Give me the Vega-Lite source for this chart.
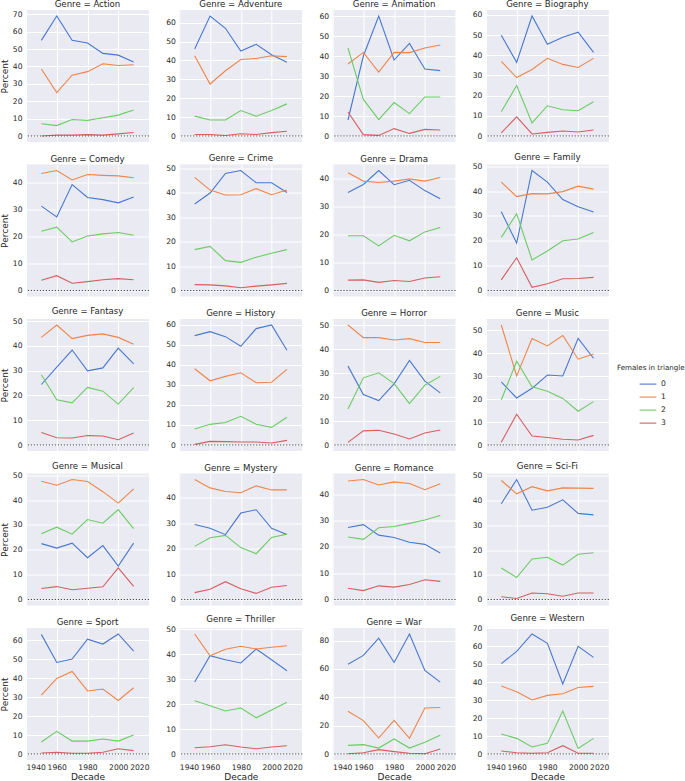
{
"$schema":"https://vega.github.io/schema/vega-lite/v6.json",
"padding":{"left":0,"top":0,"right":0,"bottom":0},
"background":"white",
"datasets":{"d":[
{"Genre":"Action","Decade":1950,"Females":"0","Percent":55},{"Genre":"Action","Decade":1960,"Females":"0","Percent":69},{"Genre":"Action","Decade":1970,"Females":"0","Percent":55},{"Genre":"Action","Decade":1980,"Females":"0","Percent":53.5},{"Genre":"Action","Decade":1990,"Females":"0","Percent":47.5},{"Genre":"Action","Decade":2000,"Females":"0","Percent":46.5},{"Genre":"Action","Decade":2010,"Females":"0","Percent":42.5},
{"Genre":"Action","Decade":1950,"Females":"1","Percent":38.5},{"Genre":"Action","Decade":1960,"Females":"1","Percent":25},{"Genre":"Action","Decade":1970,"Females":"1","Percent":35},{"Genre":"Action","Decade":1980,"Females":"1","Percent":37},{"Genre":"Action","Decade":1990,"Females":"1","Percent":41.5},{"Genre":"Action","Decade":2000,"Females":"1","Percent":40.5},{"Genre":"Action","Decade":2010,"Females":"1","Percent":41},
{"Genre":"Action","Decade":1950,"Females":"2","Percent":7},{"Genre":"Action","Decade":1960,"Females":"2","Percent":6},{"Genre":"Action","Decade":1970,"Females":"2","Percent":9.5},{"Genre":"Action","Decade":1980,"Females":"2","Percent":9},{"Genre":"Action","Decade":1990,"Females":"2","Percent":10.5},{"Genre":"Action","Decade":2000,"Females":"2","Percent":12},{"Genre":"Action","Decade":2010,"Females":"2","Percent":15},
{"Genre":"Action","Decade":1950,"Females":"3","Percent":0},{"Genre":"Action","Decade":1960,"Females":"3","Percent":0.5},{"Genre":"Action","Decade":1970,"Females":"3","Percent":0.5},{"Genre":"Action","Decade":1980,"Females":"3","Percent":0.8},{"Genre":"Action","Decade":1990,"Females":"3","Percent":0.5},{"Genre":"Action","Decade":2000,"Females":"3","Percent":1.2},{"Genre":"Action","Decade":2010,"Females":"3","Percent":2},
{"Genre":"Adventure","Decade":1950,"Females":"0","Percent":46},{"Genre":"Adventure","Decade":1960,"Females":"0","Percent":63.5},{"Genre":"Adventure","Decade":1970,"Females":"0","Percent":57},{"Genre":"Adventure","Decade":1980,"Females":"0","Percent":45},{"Genre":"Adventure","Decade":1990,"Females":"0","Percent":48.5},{"Genre":"Adventure","Decade":2000,"Females":"0","Percent":43},{"Genre":"Adventure","Decade":2010,"Females":"0","Percent":39},
{"Genre":"Adventure","Decade":1950,"Females":"1","Percent":42.5},{"Genre":"Adventure","Decade":1960,"Females":"1","Percent":27.5},{"Genre":"Adventure","Decade":1970,"Females":"1","Percent":34.5},{"Genre":"Adventure","Decade":1980,"Females":"1","Percent":40.5},{"Genre":"Adventure","Decade":1990,"Females":"1","Percent":41},{"Genre":"Adventure","Decade":2000,"Females":"1","Percent":42.5},{"Genre":"Adventure","Decade":2010,"Females":"1","Percent":42},
{"Genre":"Adventure","Decade":1950,"Females":"2","Percent":10.5},{"Genre":"Adventure","Decade":1960,"Females":"2","Percent":8.5},{"Genre":"Adventure","Decade":1970,"Females":"2","Percent":8.5},{"Genre":"Adventure","Decade":1980,"Females":"2","Percent":13.5},{"Genre":"Adventure","Decade":1990,"Females":"2","Percent":10.5},{"Genre":"Adventure","Decade":2000,"Females":"2","Percent":13.5},{"Genre":"Adventure","Decade":2010,"Females":"2","Percent":17},
{"Genre":"Adventure","Decade":1950,"Females":"3","Percent":0.8},{"Genre":"Adventure","Decade":1960,"Females":"3","Percent":0.8},{"Genre":"Adventure","Decade":1970,"Females":"3","Percent":0.3},{"Genre":"Adventure","Decade":1980,"Females":"3","Percent":1.2},{"Genre":"Adventure","Decade":1990,"Females":"3","Percent":0.8},{"Genre":"Adventure","Decade":2000,"Females":"3","Percent":1.8},{"Genre":"Adventure","Decade":2010,"Females":"3","Percent":2.5},
{"Genre":"Animation","Decade":1950,"Females":"0","Percent":8},{"Genre":"Animation","Decade":1960,"Females":"0","Percent":40},{"Genre":"Animation","Decade":1970,"Females":"0","Percent":60},{"Genre":"Animation","Decade":1980,"Females":"0","Percent":38},{"Genre":"Animation","Decade":1990,"Females":"0","Percent":46.3},{"Genre":"Animation","Decade":2000,"Females":"0","Percent":33.5},{"Genre":"Animation","Decade":2010,"Females":"0","Percent":32.7},
{"Genre":"Animation","Decade":1950,"Females":"1","Percent":36},{"Genre":"Animation","Decade":1960,"Females":"1","Percent":41.8},{"Genre":"Animation","Decade":1970,"Females":"1","Percent":32},{"Genre":"Animation","Decade":1980,"Females":"1","Percent":41.8},{"Genre":"Animation","Decade":1990,"Females":"1","Percent":41.7},{"Genre":"Animation","Decade":2000,"Females":"1","Percent":44},{"Genre":"Animation","Decade":2010,"Females":"1","Percent":45.5},
{"Genre":"Animation","Decade":1950,"Females":"2","Percent":44},{"Genre":"Animation","Decade":1960,"Females":"2","Percent":18.3},{"Genre":"Animation","Decade":1970,"Females":"2","Percent":8.2},{"Genre":"Animation","Decade":1980,"Females":"2","Percent":16.7},{"Genre":"Animation","Decade":1990,"Females":"2","Percent":11.2},{"Genre":"Animation","Decade":2000,"Females":"2","Percent":19.5},{"Genre":"Animation","Decade":2010,"Females":"2","Percent":19.5},
{"Genre":"Animation","Decade":1950,"Females":"3","Percent":12},{"Genre":"Animation","Decade":1960,"Females":"3","Percent":0.7},{"Genre":"Animation","Decade":1970,"Females":"3","Percent":0.3},{"Genre":"Animation","Decade":1980,"Females":"3","Percent":3.7},{"Genre":"Animation","Decade":1990,"Females":"3","Percent":1.3},{"Genre":"Animation","Decade":2000,"Females":"3","Percent":3.3},{"Genre":"Animation","Decade":2010,"Females":"3","Percent":3},
{"Genre":"Biography","Decade":1950,"Females":"0","Percent":50},{"Genre":"Biography","Decade":1960,"Females":"0","Percent":36.5},{"Genre":"Biography","Decade":1970,"Females":"0","Percent":59.5},{"Genre":"Biography","Decade":1980,"Females":"0","Percent":45.5},{"Genre":"Biography","Decade":1990,"Females":"0","Percent":49},{"Genre":"Biography","Decade":2000,"Females":"0","Percent":51.5},{"Genre":"Biography","Decade":2010,"Females":"0","Percent":41.5},
{"Genre":"Biography","Decade":1950,"Females":"1","Percent":37},{"Genre":"Biography","Decade":1960,"Females":"1","Percent":29},{"Genre":"Biography","Decade":1970,"Females":"1","Percent":33},{"Genre":"Biography","Decade":1980,"Females":"1","Percent":38.5},{"Genre":"Biography","Decade":1990,"Females":"1","Percent":35.5},{"Genre":"Biography","Decade":2000,"Females":"1","Percent":34},{"Genre":"Biography","Decade":2010,"Females":"1","Percent":38.5},
{"Genre":"Biography","Decade":1950,"Females":"2","Percent":12},{"Genre":"Biography","Decade":1960,"Females":"2","Percent":25},{"Genre":"Biography","Decade":1970,"Females":"2","Percent":6.5},{"Genre":"Biography","Decade":1980,"Females":"2","Percent":15},{"Genre":"Biography","Decade":1990,"Females":"2","Percent":13},{"Genre":"Biography","Decade":2000,"Females":"2","Percent":12.5},{"Genre":"Biography","Decade":2010,"Females":"2","Percent":17},
{"Genre":"Biography","Decade":1950,"Females":"3","Percent":1.5},{"Genre":"Biography","Decade":1960,"Females":"3","Percent":9.5},{"Genre":"Biography","Decade":1970,"Females":"3","Percent":1},{"Genre":"Biography","Decade":1980,"Females":"3","Percent":1.8},{"Genre":"Biography","Decade":1990,"Females":"3","Percent":2.5},{"Genre":"Biography","Decade":2000,"Females":"3","Percent":2},{"Genre":"Biography","Decade":2010,"Females":"3","Percent":3},
{"Genre":"Comedy","Decade":1950,"Females":"0","Percent":31.3},{"Genre":"Comedy","Decade":1960,"Females":"0","Percent":27.3},{"Genre":"Comedy","Decade":1970,"Females":"0","Percent":39.3},{"Genre":"Comedy","Decade":1980,"Females":"0","Percent":34.5},{"Genre":"Comedy","Decade":1990,"Females":"0","Percent":33.7},{"Genre":"Comedy","Decade":2000,"Females":"0","Percent":32.5},{"Genre":"Comedy","Decade":2010,"Females":"0","Percent":34.7},
{"Genre":"Comedy","Decade":1950,"Females":"1","Percent":43.4},{"Genre":"Comedy","Decade":1960,"Females":"1","Percent":44.5},{"Genre":"Comedy","Decade":1970,"Females":"1","Percent":41},{"Genre":"Comedy","Decade":1980,"Females":"1","Percent":43},{"Genre":"Comedy","Decade":1990,"Females":"1","Percent":42.7},{"Genre":"Comedy","Decade":2000,"Females":"1","Percent":42.5},{"Genre":"Comedy","Decade":2010,"Females":"1","Percent":41.8},
{"Genre":"Comedy","Decade":1950,"Females":"2","Percent":22},{"Genre":"Comedy","Decade":1960,"Females":"2","Percent":23.5},{"Genre":"Comedy","Decade":1970,"Females":"2","Percent":18},{"Genre":"Comedy","Decade":1980,"Females":"2","Percent":20.2},{"Genre":"Comedy","Decade":1990,"Females":"2","Percent":21},{"Genre":"Comedy","Decade":2000,"Females":"2","Percent":21.5},{"Genre":"Comedy","Decade":2010,"Females":"2","Percent":20.5},
{"Genre":"Comedy","Decade":1950,"Females":"3","Percent":3.8},{"Genre":"Comedy","Decade":1960,"Females":"3","Percent":5.5},{"Genre":"Comedy","Decade":1970,"Females":"3","Percent":2.7},{"Genre":"Comedy","Decade":1980,"Females":"3","Percent":3.3},{"Genre":"Comedy","Decade":1990,"Females":"3","Percent":4},{"Genre":"Comedy","Decade":2000,"Females":"3","Percent":4.4},{"Genre":"Comedy","Decade":2010,"Females":"3","Percent":4},
{"Genre":"Crime","Decade":1950,"Females":"0","Percent":35.3},{"Genre":"Crime","Decade":1960,"Females":"0","Percent":39.8},{"Genre":"Crime","Decade":1970,"Females":"0","Percent":47.8},{"Genre":"Crime","Decade":1980,"Females":"0","Percent":49},{"Genre":"Crime","Decade":1990,"Females":"0","Percent":44},{"Genre":"Crime","Decade":2000,"Females":"0","Percent":44},{"Genre":"Crime","Decade":2010,"Females":"0","Percent":40},
{"Genre":"Crime","Decade":1950,"Females":"1","Percent":46.2},{"Genre":"Crime","Decade":1960,"Females":"1","Percent":41},{"Genre":"Crime","Decade":1970,"Females":"1","Percent":39},{"Genre":"Crime","Decade":1980,"Females":"1","Percent":39.1},{"Genre":"Crime","Decade":1990,"Females":"1","Percent":41.6},{"Genre":"Crime","Decade":2000,"Females":"1","Percent":39.1},{"Genre":"Crime","Decade":2010,"Females":"1","Percent":41},
{"Genre":"Crime","Decade":1950,"Females":"2","Percent":16.7},{"Genre":"Crime","Decade":1960,"Females":"2","Percent":18},{"Genre":"Crime","Decade":1970,"Females":"2","Percent":12.2},{"Genre":"Crime","Decade":1980,"Females":"2","Percent":11.5},{"Genre":"Crime","Decade":1990,"Females":"2","Percent":13.6},{"Genre":"Crime","Decade":2000,"Females":"2","Percent":15.2},{"Genre":"Crime","Decade":2010,"Females":"2","Percent":16.7},
{"Genre":"Crime","Decade":1950,"Females":"3","Percent":2.4},{"Genre":"Crime","Decade":1960,"Females":"3","Percent":2.3},{"Genre":"Crime","Decade":1970,"Females":"3","Percent":1.9},{"Genre":"Crime","Decade":1980,"Females":"3","Percent":1.1},{"Genre":"Crime","Decade":1990,"Females":"3","Percent":1.8},{"Genre":"Crime","Decade":2000,"Females":"3","Percent":2.3},{"Genre":"Crime","Decade":2010,"Females":"3","Percent":2.9},
{"Genre":"Drama","Decade":1950,"Females":"0","Percent":35.1},{"Genre":"Drama","Decade":1960,"Females":"0","Percent":38},{"Genre":"Drama","Decade":1970,"Females":"0","Percent":43},{"Genre":"Drama","Decade":1980,"Females":"0","Percent":37.9},{"Genre":"Drama","Decade":1990,"Females":"0","Percent":39.5},{"Genre":"Drama","Decade":2000,"Females":"0","Percent":35.8},{"Genre":"Drama","Decade":2010,"Females":"0","Percent":32.9},
{"Genre":"Drama","Decade":1950,"Females":"1","Percent":42.2},{"Genre":"Drama","Decade":1960,"Females":"1","Percent":39.2},{"Genre":"Drama","Decade":1970,"Females":"1","Percent":38.7},{"Genre":"Drama","Decade":1980,"Females":"1","Percent":39.2},{"Genre":"Drama","Decade":1990,"Females":"1","Percent":40},{"Genre":"Drama","Decade":2000,"Females":"1","Percent":39.2},{"Genre":"Drama","Decade":2010,"Females":"1","Percent":40.5},
{"Genre":"Drama","Decade":1950,"Females":"2","Percent":19.6},{"Genre":"Drama","Decade":1960,"Females":"2","Percent":19.6},{"Genre":"Drama","Decade":1970,"Females":"2","Percent":16},{"Genre":"Drama","Decade":1980,"Females":"2","Percent":19.8},{"Genre":"Drama","Decade":1990,"Females":"2","Percent":17.8},{"Genre":"Drama","Decade":2000,"Females":"2","Percent":21},{"Genre":"Drama","Decade":2010,"Females":"2","Percent":22.6},
{"Genre":"Drama","Decade":1950,"Females":"3","Percent":3.7},{"Genre":"Drama","Decade":1960,"Females":"3","Percent":3.8},{"Genre":"Drama","Decade":1970,"Females":"3","Percent":2.9},{"Genre":"Drama","Decade":1980,"Females":"3","Percent":3.6},{"Genre":"Drama","Decade":1990,"Females":"3","Percent":3.2},{"Genre":"Drama","Decade":2000,"Females":"3","Percent":4.5},{"Genre":"Drama","Decade":2010,"Females":"3","Percent":4.9},
{"Genre":"Family","Decade":1950,"Females":"0","Percent":31.7},{"Genre":"Family","Decade":1960,"Females":"0","Percent":19.1},{"Genre":"Family","Decade":1970,"Females":"0","Percent":48.3},{"Genre":"Family","Decade":1980,"Females":"0","Percent":43.6},{"Genre":"Family","Decade":1990,"Females":"0","Percent":36.6},{"Genre":"Family","Decade":2000,"Females":"0","Percent":33.7},{"Genre":"Family","Decade":2010,"Females":"0","Percent":31.6},
{"Genre":"Family","Decade":1950,"Females":"1","Percent":43.6},{"Genre":"Family","Decade":1960,"Females":"1","Percent":37.8},{"Genre":"Family","Decade":1970,"Females":"1","Percent":39},{"Genre":"Family","Decade":1980,"Females":"1","Percent":38.9},{"Genre":"Family","Decade":1990,"Females":"1","Percent":39.8},{"Genre":"Family","Decade":2000,"Females":"1","Percent":42},{"Genre":"Family","Decade":2010,"Females":"1","Percent":40.8},
{"Genre":"Family","Decade":1950,"Females":"2","Percent":21.4},{"Genre":"Family","Decade":1960,"Females":"2","Percent":30.9},{"Genre":"Family","Decade":1970,"Females":"2","Percent":12.3},{"Genre":"Family","Decade":1980,"Females":"2","Percent":15.9},{"Genre":"Family","Decade":1990,"Females":"2","Percent":20},{"Genre":"Family","Decade":2000,"Females":"2","Percent":20.7},{"Genre":"Family","Decade":2010,"Females":"2","Percent":23.3},
{"Genre":"Family","Decade":1950,"Females":"3","Percent":4.3},{"Genre":"Family","Decade":1960,"Females":"3","Percent":13.2},{"Genre":"Family","Decade":1970,"Females":"3","Percent":1.3},{"Genre":"Family","Decade":1980,"Females":"3","Percent":2.7},{"Genre":"Family","Decade":1990,"Females":"3","Percent":4.7},{"Genre":"Family","Decade":2000,"Females":"3","Percent":4.8},{"Genre":"Family","Decade":2010,"Females":"3","Percent":5.3},
{"Genre":"Fantasy","Decade":1950,"Females":"0","Percent":24.4},{"Genre":"Fantasy","Decade":1960,"Females":"0","Percent":31.4},{"Genre":"Fantasy","Decade":1970,"Females":"0","Percent":38.3},{"Genre":"Fantasy","Decade":1980,"Females":"0","Percent":29.9},{"Genre":"Fantasy","Decade":1990,"Females":"0","Percent":31.1},{"Genre":"Fantasy","Decade":2000,"Females":"0","Percent":39.1},{"Genre":"Fantasy","Decade":2010,"Females":"0","Percent":32.7},
{"Genre":"Fantasy","Decade":1950,"Females":"1","Percent":43.4},{"Genre":"Fantasy","Decade":1960,"Females":"1","Percent":48.4},{"Genre":"Fantasy","Decade":1970,"Females":"1","Percent":42.9},{"Genre":"Fantasy","Decade":1980,"Females":"1","Percent":44.2},{"Genre":"Fantasy","Decade":1990,"Females":"1","Percent":44.8},{"Genre":"Fantasy","Decade":2000,"Females":"1","Percent":43.4},{"Genre":"Fantasy","Decade":2010,"Females":"1","Percent":40.6},
{"Genre":"Fantasy","Decade":1950,"Females":"2","Percent":28.3},{"Genre":"Fantasy","Decade":1960,"Females":"2","Percent":18.2},{"Genre":"Fantasy","Decade":1970,"Females":"2","Percent":17},{"Genre":"Fantasy","Decade":1980,"Females":"2","Percent":23.2},{"Genre":"Fantasy","Decade":1990,"Females":"2","Percent":21.7},{"Genre":"Fantasy","Decade":2000,"Females":"2","Percent":16.5},{"Genre":"Fantasy","Decade":2010,"Females":"2","Percent":23.1},
{"Genre":"Fantasy","Decade":1950,"Females":"3","Percent":5},{"Genre":"Fantasy","Decade":1960,"Females":"3","Percent":2.9},{"Genre":"Fantasy","Decade":1970,"Females":"3","Percent":2.8},{"Genre":"Fantasy","Decade":1980,"Females":"3","Percent":3.8},{"Genre":"Fantasy","Decade":1990,"Females":"3","Percent":3.6},{"Genre":"Fantasy","Decade":2000,"Females":"3","Percent":2.1},{"Genre":"Fantasy","Decade":2010,"Females":"3","Percent":4.8},
{"Genre":"History","Decade":1950,"Females":"0","Percent":54.5},{"Genre":"History","Decade":1960,"Females":"0","Percent":56.5},{"Genre":"History","Decade":1970,"Females":"0","Percent":54},{"Genre":"History","Decade":1980,"Females":"0","Percent":49.2},{"Genre":"History","Decade":1990,"Females":"0","Percent":58},{"Genre":"History","Decade":2000,"Females":"0","Percent":59.8},{"Genre":"History","Decade":2010,"Females":"0","Percent":47.2},
{"Genre":"History","Decade":1950,"Females":"1","Percent":38},{"Genre":"History","Decade":1960,"Females":"1","Percent":32},{"Genre":"History","Decade":1970,"Females":"1","Percent":34.2},{"Genre":"History","Decade":1980,"Females":"1","Percent":36},{"Genre":"History","Decade":1990,"Females":"1","Percent":31},{"Genre":"History","Decade":2000,"Females":"1","Percent":31.3},{"Genre":"History","Decade":2010,"Females":"1","Percent":37.7},
{"Genre":"History","Decade":1950,"Females":"2","Percent":8},{"Genre":"History","Decade":1960,"Females":"2","Percent":10.3},{"Genre":"History","Decade":1970,"Females":"2","Percent":11.2},{"Genre":"History","Decade":1980,"Females":"2","Percent":14.3},{"Genre":"History","Decade":1990,"Females":"2","Percent":10.3},{"Genre":"History","Decade":2000,"Females":"2","Percent":8.8},{"Genre":"History","Decade":2010,"Females":"2","Percent":13.8},
{"Genre":"History","Decade":1950,"Females":"3","Percent":0.3},{"Genre":"History","Decade":1960,"Females":"3","Percent":1.8},{"Genre":"History","Decade":1970,"Females":"3","Percent":1.7},{"Genre":"History","Decade":1980,"Females":"3","Percent":1.5},{"Genre":"History","Decade":1990,"Females":"3","Percent":1.5},{"Genre":"History","Decade":2000,"Females":"3","Percent":1},{"Genre":"History","Decade":2010,"Females":"3","Percent":2.3},
{"Genre":"Horror","Decade":1950,"Females":"0","Percent":33},{"Genre":"Horror","Decade":1960,"Females":"0","Percent":21.1},{"Genre":"Horror","Decade":1970,"Females":"0","Percent":18.6},{"Genre":"Horror","Decade":1980,"Females":"0","Percent":25.6},{"Genre":"Horror","Decade":1990,"Females":"0","Percent":35.4},{"Genre":"Horror","Decade":2000,"Females":"0","Percent":26.7},{"Genre":"Horror","Decade":2010,"Females":"0","Percent":21.8},
{"Genre":"Horror","Decade":1950,"Females":"1","Percent":50.2},{"Genre":"Horror","Decade":1960,"Females":"1","Percent":44.9},{"Genre":"Horror","Decade":1970,"Females":"1","Percent":44.9},{"Genre":"Horror","Decade":1980,"Females":"1","Percent":43.9},{"Genre":"Horror","Decade":1990,"Females":"1","Percent":44.5},{"Genre":"Horror","Decade":2000,"Females":"1","Percent":42.9},{"Genre":"Horror","Decade":2010,"Females":"1","Percent":42.9},
{"Genre":"Horror","Decade":1950,"Females":"2","Percent":15.1},{"Genre":"Horror","Decade":1960,"Females":"2","Percent":28.1},{"Genre":"Horror","Decade":1970,"Females":"2","Percent":30.2},{"Genre":"Horror","Decade":1980,"Females":"2","Percent":25.7},{"Genre":"Horror","Decade":1990,"Females":"2","Percent":17.3},{"Genre":"Horror","Decade":2000,"Females":"2","Percent":25},{"Genre":"Horror","Decade":2010,"Females":"2","Percent":28.7},
{"Genre":"Horror","Decade":1950,"Females":"3","Percent":1.1},{"Genre":"Horror","Decade":1960,"Females":"3","Percent":5.9},{"Genre":"Horror","Decade":1970,"Females":"3","Percent":6.2},{"Genre":"Horror","Decade":1980,"Females":"3","Percent":4.6},{"Genre":"Horror","Decade":1990,"Females":"3","Percent":2.5},{"Genre":"Horror","Decade":2000,"Females":"3","Percent":5},{"Genre":"Horror","Decade":2010,"Females":"3","Percent":6.3},
{"Genre":"Music","Decade":1950,"Females":"0","Percent":27.5},{"Genre":"Music","Decade":1960,"Females":"0","Percent":20.5},{"Genre":"Music","Decade":1970,"Females":"0","Percent":24.7},{"Genre":"Music","Decade":1980,"Females":"0","Percent":30.5},{"Genre":"Music","Decade":1990,"Females":"0","Percent":30.1},{"Genre":"Music","Decade":2000,"Females":"0","Percent":46.5},{"Genre":"Music","Decade":2010,"Females":"0","Percent":37.8},
{"Genre":"Music","Decade":1950,"Females":"1","Percent":52.3},{"Genre":"Music","Decade":1960,"Females":"1","Percent":30.1},{"Genre":"Music","Decade":1970,"Females":"1","Percent":46.4},{"Genre":"Music","Decade":1980,"Females":"1","Percent":43.2},{"Genre":"Music","Decade":1990,"Females":"1","Percent":47.7},{"Genre":"Music","Decade":2000,"Females":"1","Percent":37.4},{"Genre":"Music","Decade":2010,"Females":"1","Percent":39.7},
{"Genre":"Music","Decade":1950,"Females":"2","Percent":19.6},{"Genre":"Music","Decade":1960,"Females":"2","Percent":36.5},{"Genre":"Music","Decade":1970,"Females":"2","Percent":25.4},{"Genre":"Music","Decade":1980,"Females":"2","Percent":23.4},{"Genre":"Music","Decade":1990,"Females":"2","Percent":20.3},{"Genre":"Music","Decade":2000,"Females":"2","Percent":14.7},{"Genre":"Music","Decade":2010,"Females":"2","Percent":18.9},
{"Genre":"Music","Decade":1950,"Females":"3","Percent":1.2},{"Genre":"Music","Decade":1960,"Females":"3","Percent":13.4},{"Genre":"Music","Decade":1970,"Females":"3","Percent":3.9},{"Genre":"Music","Decade":1980,"Females":"3","Percent":3.3},{"Genre":"Music","Decade":1990,"Females":"3","Percent":2.5},{"Genre":"Music","Decade":2000,"Females":"3","Percent":2.2},{"Genre":"Music","Decade":2010,"Females":"3","Percent":4.2},
{"Genre":"Musical","Decade":1950,"Females":"0","Percent":22.5},{"Genre":"Musical","Decade":1960,"Females":"0","Percent":20.7},{"Genre":"Musical","Decade":1970,"Females":"0","Percent":22.7},{"Genre":"Musical","Decade":1980,"Females":"0","Percent":16.8},{"Genre":"Musical","Decade":1990,"Females":"0","Percent":21.7},{"Genre":"Musical","Decade":2000,"Females":"0","Percent":13.5},{"Genre":"Musical","Decade":2010,"Females":"0","Percent":22.7},
{"Genre":"Musical","Decade":1950,"Females":"1","Percent":47.6},{"Genre":"Musical","Decade":1960,"Females":"1","Percent":46},{"Genre":"Musical","Decade":1970,"Females":"1","Percent":48.3},{"Genre":"Musical","Decade":1980,"Females":"1","Percent":47.5},{"Genre":"Musical","Decade":1990,"Females":"1","Percent":43.4},{"Genre":"Musical","Decade":2000,"Females":"1","Percent":38.8},{"Genre":"Musical","Decade":2010,"Females":"1","Percent":44.5},
{"Genre":"Musical","Decade":1950,"Females":"2","Percent":26.5},{"Genre":"Musical","Decade":1960,"Females":"2","Percent":29.1},{"Genre":"Musical","Decade":1970,"Females":"2","Percent":26.3},{"Genre":"Musical","Decade":1980,"Females":"2","Percent":32.2},{"Genre":"Musical","Decade":1990,"Females":"2","Percent":30.7},{"Genre":"Musical","Decade":2000,"Females":"2","Percent":36.2},{"Genre":"Musical","Decade":2010,"Females":"2","Percent":28.5},
{"Genre":"Musical","Decade":1950,"Females":"3","Percent":4.4},{"Genre":"Musical","Decade":1960,"Females":"3","Percent":5.2},{"Genre":"Musical","Decade":1970,"Females":"3","Percent":3.9},{"Genre":"Musical","Decade":1980,"Females":"3","Percent":4.5},{"Genre":"Musical","Decade":1990,"Females":"3","Percent":5.1},{"Genre":"Musical","Decade":2000,"Females":"3","Percent":12.7},{"Genre":"Musical","Decade":2010,"Females":"3","Percent":5.3},
{"Genre":"Mystery","Decade":1950,"Females":"0","Percent":29.5},{"Genre":"Mystery","Decade":1960,"Females":"0","Percent":28},{"Genre":"Mystery","Decade":1970,"Females":"0","Percent":25.5},{"Genre":"Mystery","Decade":1980,"Females":"0","Percent":34},{"Genre":"Mystery","Decade":1990,"Females":"0","Percent":35.3},{"Genre":"Mystery","Decade":2000,"Females":"0","Percent":28},{"Genre":"Mystery","Decade":2010,"Females":"0","Percent":25.6},
{"Genre":"Mystery","Decade":1950,"Females":"1","Percent":47.2},{"Genre":"Mystery","Decade":1960,"Females":"1","Percent":43.9},{"Genre":"Mystery","Decade":1970,"Females":"1","Percent":42.5},{"Genre":"Mystery","Decade":1980,"Females":"1","Percent":42},{"Genre":"Mystery","Decade":1990,"Females":"1","Percent":44.7},{"Genre":"Mystery","Decade":2000,"Females":"1","Percent":43.1},{"Genre":"Mystery","Decade":2010,"Females":"1","Percent":43.1},
{"Genre":"Mystery","Decade":1950,"Females":"2","Percent":20.9},{"Genre":"Mystery","Decade":1960,"Females":"2","Percent":24.3},{"Genre":"Mystery","Decade":1970,"Females":"2","Percent":25.2},{"Genre":"Mystery","Decade":1980,"Females":"2","Percent":20.4},{"Genre":"Mystery","Decade":1990,"Females":"2","Percent":18},{"Genre":"Mystery","Decade":2000,"Females":"2","Percent":24.4},{"Genre":"Mystery","Decade":2010,"Females":"2","Percent":25.7},
{"Genre":"Mystery","Decade":1950,"Females":"3","Percent":2.7},{"Genre":"Mystery","Decade":1960,"Females":"3","Percent":4},{"Genre":"Mystery","Decade":1970,"Females":"3","Percent":7},{"Genre":"Mystery","Decade":1980,"Females":"3","Percent":4.2},{"Genre":"Mystery","Decade":1990,"Females":"3","Percent":2.4},{"Genre":"Mystery","Decade":2000,"Females":"3","Percent":4.8},{"Genre":"Mystery","Decade":2010,"Females":"3","Percent":5.5},
{"Genre":"Romance","Decade":1950,"Females":"0","Percent":27.4},{"Genre":"Romance","Decade":1960,"Females":"0","Percent":28.5},{"Genre":"Romance","Decade":1970,"Females":"0","Percent":24.5},{"Genre":"Romance","Decade":1980,"Females":"0","Percent":23.6},{"Genre":"Romance","Decade":1990,"Females":"0","Percent":21.8},{"Genre":"Romance","Decade":2000,"Females":"0","Percent":21},{"Genre":"Romance","Decade":2010,"Females":"0","Percent":17.7},
{"Genre":"Romance","Decade":1950,"Females":"1","Percent":45.1},{"Genre":"Romance","Decade":1960,"Females":"1","Percent":45.7},{"Genre":"Romance","Decade":1970,"Females":"1","Percent":43.6},{"Genre":"Romance","Decade":1980,"Females":"1","Percent":44.8},{"Genre":"Romance","Decade":1990,"Females":"1","Percent":44.2},{"Genre":"Romance","Decade":2000,"Females":"1","Percent":41.8},{"Genre":"Romance","Decade":2010,"Females":"1","Percent":44.1},
{"Genre":"Romance","Decade":1950,"Females":"2","Percent":23.8},{"Genre":"Romance","Decade":1960,"Females":"2","Percent":22.9},{"Genre":"Romance","Decade":1970,"Females":"2","Percent":27.3},{"Genre":"Romance","Decade":1980,"Females":"2","Percent":27.8},{"Genre":"Romance","Decade":1990,"Females":"2","Percent":29},{"Genre":"Romance","Decade":2000,"Females":"2","Percent":30.3},{"Genre":"Romance","Decade":2010,"Females":"2","Percent":32},
{"Genre":"Romance","Decade":1950,"Females":"3","Percent":4.3},{"Genre":"Romance","Decade":1960,"Females":"3","Percent":3.4},{"Genre":"Romance","Decade":1970,"Females":"3","Percent":5.2},{"Genre":"Romance","Decade":1980,"Females":"3","Percent":4.7},{"Genre":"Romance","Decade":1990,"Females":"3","Percent":5.7},{"Genre":"Romance","Decade":2000,"Females":"3","Percent":7.5},{"Genre":"Romance","Decade":2010,"Females":"3","Percent":6.9},
{"Genre":"Sci-Fi","Decade":1950,"Females":"0","Percent":38.7},{"Genre":"Sci-Fi","Decade":1960,"Females":"0","Percent":48.5},{"Genre":"Sci-Fi","Decade":1970,"Females":"0","Percent":36.1},{"Genre":"Sci-Fi","Decade":1980,"Females":"0","Percent":37.3},{"Genre":"Sci-Fi","Decade":1990,"Females":"0","Percent":40.3},{"Genre":"Sci-Fi","Decade":2000,"Females":"0","Percent":34.8},{"Genre":"Sci-Fi","Decade":2010,"Females":"0","Percent":34.2},
{"Genre":"Sci-Fi","Decade":1950,"Females":"1","Percent":48.1},{"Genre":"Sci-Fi","Decade":1960,"Females":"1","Percent":42.7},{"Genre":"Sci-Fi","Decade":1970,"Females":"1","Percent":45.6},{"Genre":"Sci-Fi","Decade":1980,"Females":"1","Percent":43.9},{"Genre":"Sci-Fi","Decade":1990,"Females":"1","Percent":45.1},{"Genre":"Sci-Fi","Decade":2000,"Females":"1","Percent":45},{"Genre":"Sci-Fi","Decade":2010,"Females":"1","Percent":44.9},
{"Genre":"Sci-Fi","Decade":1950,"Females":"2","Percent":12.7},{"Genre":"Sci-Fi","Decade":1960,"Females":"2","Percent":8.9},{"Genre":"Sci-Fi","Decade":1970,"Females":"2","Percent":16.4},{"Genre":"Sci-Fi","Decade":1980,"Females":"2","Percent":17.1},{"Genre":"Sci-Fi","Decade":1990,"Females":"2","Percent":13.9},{"Genre":"Sci-Fi","Decade":2000,"Females":"2","Percent":18.3},{"Genre":"Sci-Fi","Decade":2010,"Females":"2","Percent":18.9},
{"Genre":"Sci-Fi","Decade":1950,"Females":"3","Percent":1.1},{"Genre":"Sci-Fi","Decade":1960,"Females":"3","Percent":0.4},{"Genre":"Sci-Fi","Decade":1970,"Females":"3","Percent":2.6},{"Genre":"Sci-Fi","Decade":1980,"Females":"3","Percent":2.3},{"Genre":"Sci-Fi","Decade":1990,"Females":"3","Percent":1.3},{"Genre":"Sci-Fi","Decade":2000,"Females":"3","Percent":2.6},{"Genre":"Sci-Fi","Decade":2010,"Females":"3","Percent":2.6},
{"Genre":"Sport","Decade":1950,"Females":"0","Percent":63},{"Genre":"Sport","Decade":1960,"Females":"0","Percent":48.2},{"Genre":"Sport","Decade":1970,"Females":"0","Percent":50},{"Genre":"Sport","Decade":1980,"Females":"0","Percent":60.5},{"Genre":"Sport","Decade":1990,"Females":"0","Percent":57.9},{"Genre":"Sport","Decade":2000,"Females":"0","Percent":63.2},{"Genre":"Sport","Decade":2010,"Females":"0","Percent":54.2},
{"Genre":"Sport","Decade":1950,"Females":"1","Percent":31},{"Genre":"Sport","Decade":1960,"Females":"1","Percent":39.8},{"Genre":"Sport","Decade":1970,"Females":"1","Percent":43.5},{"Genre":"Sport","Decade":1980,"Females":"1","Percent":33.2},{"Genre":"Sport","Decade":1990,"Females":"1","Percent":34.2},{"Genre":"Sport","Decade":2000,"Females":"1","Percent":28.2},{"Genre":"Sport","Decade":2010,"Females":"1","Percent":34.9},
{"Genre":"Sport","Decade":1950,"Females":"2","Percent":6.3},{"Genre":"Sport","Decade":1960,"Females":"2","Percent":11.9},{"Genre":"Sport","Decade":1970,"Females":"2","Percent":6.8},{"Genre":"Sport","Decade":1980,"Females":"2","Percent":6.8},{"Genre":"Sport","Decade":1990,"Females":"2","Percent":7.9},{"Genre":"Sport","Decade":2000,"Females":"2","Percent":6.8},{"Genre":"Sport","Decade":2010,"Females":"2","Percent":10},
{"Genre":"Sport","Decade":1950,"Females":"3","Percent":0.5},{"Genre":"Sport","Decade":1960,"Females":"3","Percent":0.9},{"Genre":"Sport","Decade":1970,"Females":"3","Percent":0.4},{"Genre":"Sport","Decade":1980,"Females":"3","Percent":0.4},{"Genre":"Sport","Decade":1990,"Females":"3","Percent":0.9},{"Genre":"Sport","Decade":2000,"Females":"3","Percent":2.8},{"Genre":"Sport","Decade":2010,"Females":"3","Percent":1.8},
{"Genre":"Thriller","Decade":1950,"Females":"0","Percent":28.8},{"Genre":"Thriller","Decade":1960,"Females":"0","Percent":39.3},{"Genre":"Thriller","Decade":1970,"Females":"0","Percent":37.7},{"Genre":"Thriller","Decade":1980,"Females":"0","Percent":36.4},{"Genre":"Thriller","Decade":1990,"Females":"0","Percent":42},{"Genre":"Thriller","Decade":2000,"Females":"0","Percent":37.7},{"Genre":"Thriller","Decade":2010,"Females":"0","Percent":33.3},
{"Genre":"Thriller","Decade":1950,"Females":"1","Percent":48},{"Genre":"Thriller","Decade":1960,"Females":"1","Percent":39.3},{"Genre":"Thriller","Decade":1970,"Females":"1","Percent":41.9},{"Genre":"Thriller","Decade":1980,"Females":"1","Percent":43.1},{"Genre":"Thriller","Decade":1990,"Females":"1","Percent":42},{"Genre":"Thriller","Decade":2000,"Females":"1","Percent":42.7},{"Genre":"Thriller","Decade":2010,"Females":"1","Percent":43.3},
{"Genre":"Thriller","Decade":1950,"Females":"2","Percent":21.3},{"Genre":"Thriller","Decade":1960,"Females":"2","Percent":19.3},{"Genre":"Thriller","Decade":1970,"Females":"2","Percent":17.2},{"Genre":"Thriller","Decade":1980,"Females":"2","Percent":18.4},{"Genre":"Thriller","Decade":1990,"Females":"2","Percent":14.5},{"Genre":"Thriller","Decade":2000,"Females":"2","Percent":17.6},{"Genre":"Thriller","Decade":2010,"Females":"2","Percent":20.7},
{"Genre":"Thriller","Decade":1950,"Females":"3","Percent":2.5},{"Genre":"Thriller","Decade":1960,"Females":"3","Percent":2.9},{"Genre":"Thriller","Decade":1970,"Females":"3","Percent":3.7},{"Genre":"Thriller","Decade":1980,"Females":"3","Percent":2.8},{"Genre":"Thriller","Decade":1990,"Females":"3","Percent":2.1},{"Genre":"Thriller","Decade":2000,"Females":"3","Percent":2.8},{"Genre":"Thriller","Decade":2010,"Females":"3","Percent":3.3},
{"Genre":"War","Decade":1950,"Females":"0","Percent":63.4},{"Genre":"War","Decade":1960,"Females":"0","Percent":69.6},{"Genre":"War","Decade":1970,"Females":"0","Percent":81.8},{"Genre":"War","Decade":1980,"Females":"0","Percent":64.6},{"Genre":"War","Decade":1990,"Females":"0","Percent":84.7},{"Genre":"War","Decade":2000,"Females":"0","Percent":59},{"Genre":"War","Decade":2010,"Females":"0","Percent":50.7},
{"Genre":"War","Decade":1950,"Females":"1","Percent":30.2},{"Genre":"War","Decade":1960,"Females":"1","Percent":23.6},{"Genre":"War","Decade":1970,"Females":"1","Percent":11.3},{"Genre":"War","Decade":1980,"Females":"1","Percent":23.8},{"Genre":"War","Decade":1990,"Females":"1","Percent":11.1},{"Genre":"War","Decade":2000,"Females":"1","Percent":32.5},{"Genre":"War","Decade":2010,"Females":"1","Percent":32.8},
{"Genre":"War","Decade":1950,"Females":"2","Percent":6.1},{"Genre":"War","Decade":1960,"Females":"2","Percent":6.6},{"Genre":"War","Decade":1970,"Females":"2","Percent":4.2},{"Genre":"War","Decade":1980,"Females":"2","Percent":10.6},{"Genre":"War","Decade":1990,"Females":"2","Percent":4.2},{"Genre":"War","Decade":2000,"Females":"2","Percent":8.3},{"Genre":"War","Decade":2010,"Females":"2","Percent":13.2},
{"Genre":"War","Decade":1950,"Females":"3","Percent":0.2},{"Genre":"War","Decade":1960,"Females":"3","Percent":0.9},{"Genre":"War","Decade":1970,"Females":"3","Percent":3.1},{"Genre":"War","Decade":1980,"Females":"3","Percent":1.7},{"Genre":"War","Decade":1990,"Females":"3","Percent":0.5},{"Genre":"War","Decade":2000,"Females":"3","Percent":0.2},{"Genre":"War","Decade":2010,"Females":"3","Percent":3.5},
{"Genre":"Western","Decade":1950,"Females":"0","Percent":50.2},{"Genre":"Western","Decade":1960,"Females":"0","Percent":57},{"Genre":"Western","Decade":1970,"Females":"0","Percent":66.7},{"Genre":"Western","Decade":1980,"Females":"0","Percent":61.5},{"Genre":"Western","Decade":1990,"Females":"0","Percent":38.9},{"Genre":"Western","Decade":2000,"Females":"0","Percent":59.8},{"Genre":"Western","Decade":2010,"Females":"0","Percent":53.7},
{"Genre":"Western","Decade":1950,"Females":"1","Percent":37.8},{"Genre":"Western","Decade":1960,"Females":"1","Percent":34.6},{"Genre":"Western","Decade":1970,"Females":"1","Percent":30},{"Genre":"Western","Decade":1980,"Females":"1","Percent":32.6},{"Genre":"Western","Decade":1990,"Females":"1","Percent":33.5},{"Genre":"Western","Decade":2000,"Females":"1","Percent":37},{"Genre":"Western","Decade":2010,"Females":"1","Percent":37.6},
{"Genre":"Western","Decade":1950,"Females":"2","Percent":11.1},{"Genre":"Western","Decade":1960,"Females":"2","Percent":8.7},{"Genre":"Western","Decade":1970,"Females":"2","Percent":3.9},{"Genre":"Western","Decade":1980,"Females":"2","Percent":5.9},{"Genre":"Western","Decade":1990,"Females":"2","Percent":23.9},{"Genre":"Western","Decade":2000,"Females":"2","Percent":3.1},{"Genre":"Western","Decade":2010,"Females":"2","Percent":8.7},
{"Genre":"Western","Decade":1950,"Females":"3","Percent":1.7},{"Genre":"Western","Decade":1960,"Females":"3","Percent":0.7},{"Genre":"Western","Decade":1970,"Females":"3","Percent":0.4},{"Genre":"Western","Decade":1980,"Females":"3","Percent":0.7},{"Genre":"Western","Decade":1990,"Females":"3","Percent":4.6},{"Genre":"Western","Decade":2000,"Females":"3","Percent":0.4},{"Genre":"Western","Decade":2010,"Females":"3","Percent":0.4}
]},
"data":{"name":"d"},
"columns":4,
"bounds":"flush",
"spacing":{"row":22.5,"column":30.3},
"concat":[
{"title":"Genre = Action","transform":[{"filter":"datum.Genre==='Action'"}],"layer":[{"mark":"line","encoding":{"x":{"field":"Decade","type":"quantitative","scale":{"domain":[1940,2020]},"axis":{"labels":false,"title":null}},"y":{"field":"Percent","type":"quantitative","scale":{"nice":false,"padding":6},"axis":{"title":"Percent"}},"color":{"field":"Females","type":"nominal","title":"Females in triangle"}}},{"data":{"values":[{}]},"mark":"rule","encoding":{"y":{"datum":0}}}]},
{"title":"Genre = Adventure","transform":[{"filter":"datum.Genre==='Adventure'"}],"layer":[{"mark":"line","encoding":{"x":{"field":"Decade","type":"quantitative","scale":{"domain":[1940,2020]},"axis":{"labels":false,"title":null}},"y":{"field":"Percent","type":"quantitative","scale":{"nice":false,"padding":6},"axis":{"title":null}},"color":{"field":"Females","type":"nominal","title":"Females in triangle"}}},{"data":{"values":[{}]},"mark":"rule","encoding":{"y":{"datum":0}}}]},
{"title":"Genre = Animation","transform":[{"filter":"datum.Genre==='Animation'"}],"layer":[{"mark":"line","encoding":{"x":{"field":"Decade","type":"quantitative","scale":{"domain":[1940,2020]},"axis":{"labels":false,"title":null}},"y":{"field":"Percent","type":"quantitative","scale":{"nice":false,"padding":6},"axis":{"title":null}},"color":{"field":"Females","type":"nominal","title":"Females in triangle"}}},{"data":{"values":[{}]},"mark":"rule","encoding":{"y":{"datum":0}}}]},
{"title":"Genre = Biography","transform":[{"filter":"datum.Genre==='Biography'"}],"layer":[{"mark":"line","encoding":{"x":{"field":"Decade","type":"quantitative","scale":{"domain":[1940,2020]},"axis":{"labels":false,"title":null}},"y":{"field":"Percent","type":"quantitative","scale":{"nice":false,"padding":6},"axis":{"title":null}},"color":{"field":"Females","type":"nominal","title":"Females in triangle"}}},{"data":{"values":[{}]},"mark":"rule","encoding":{"y":{"datum":0}}}]},
{"title":"Genre = Comedy","transform":[{"filter":"datum.Genre==='Comedy'"}],"layer":[{"mark":"line","encoding":{"x":{"field":"Decade","type":"quantitative","scale":{"domain":[1940,2020]},"axis":{"labels":false,"title":null}},"y":{"field":"Percent","type":"quantitative","scale":{"nice":false,"padding":6},"axis":{"title":"Percent"}},"color":{"field":"Females","type":"nominal","title":"Females in triangle"}}},{"data":{"values":[{}]},"mark":"rule","encoding":{"y":{"datum":0}}}]},
{"title":"Genre = Crime","transform":[{"filter":"datum.Genre==='Crime'"}],"layer":[{"mark":"line","encoding":{"x":{"field":"Decade","type":"quantitative","scale":{"domain":[1940,2020]},"axis":{"labels":false,"title":null}},"y":{"field":"Percent","type":"quantitative","scale":{"nice":false,"padding":6},"axis":{"title":null}},"color":{"field":"Females","type":"nominal","title":"Females in triangle"}}},{"data":{"values":[{}]},"mark":"rule","encoding":{"y":{"datum":0}}}]},
{"title":"Genre = Drama","transform":[{"filter":"datum.Genre==='Drama'"}],"layer":[{"mark":"line","encoding":{"x":{"field":"Decade","type":"quantitative","scale":{"domain":[1940,2020]},"axis":{"labels":false,"title":null}},"y":{"field":"Percent","type":"quantitative","scale":{"nice":false,"padding":6},"axis":{"title":null}},"color":{"field":"Females","type":"nominal","title":"Females in triangle"}}},{"data":{"values":[{}]},"mark":"rule","encoding":{"y":{"datum":0}}}]},
{"title":"Genre = Family","transform":[{"filter":"datum.Genre==='Family'"}],"layer":[{"mark":"line","encoding":{"x":{"field":"Decade","type":"quantitative","scale":{"domain":[1940,2020]},"axis":{"labels":false,"title":null}},"y":{"field":"Percent","type":"quantitative","scale":{"nice":false,"padding":6},"axis":{"title":null}},"color":{"field":"Females","type":"nominal","title":"Females in triangle"}}},{"data":{"values":[{}]},"mark":"rule","encoding":{"y":{"datum":0}}}]},
{"title":"Genre = Fantasy","transform":[{"filter":"datum.Genre==='Fantasy'"}],"layer":[{"mark":"line","encoding":{"x":{"field":"Decade","type":"quantitative","scale":{"domain":[1940,2020]},"axis":{"labels":false,"title":null}},"y":{"field":"Percent","type":"quantitative","scale":{"nice":false,"padding":6},"axis":{"title":"Percent"}},"color":{"field":"Females","type":"nominal","title":"Females in triangle"}}},{"data":{"values":[{}]},"mark":"rule","encoding":{"y":{"datum":0}}}]},
{"title":"Genre = History","transform":[{"filter":"datum.Genre==='History'"}],"layer":[{"mark":"line","encoding":{"x":{"field":"Decade","type":"quantitative","scale":{"domain":[1940,2020]},"axis":{"labels":false,"title":null}},"y":{"field":"Percent","type":"quantitative","scale":{"nice":false,"padding":6},"axis":{"title":null}},"color":{"field":"Females","type":"nominal","title":"Females in triangle"}}},{"data":{"values":[{}]},"mark":"rule","encoding":{"y":{"datum":0}}}]},
{"title":"Genre = Horror","transform":[{"filter":"datum.Genre==='Horror'"}],"layer":[{"mark":"line","encoding":{"x":{"field":"Decade","type":"quantitative","scale":{"domain":[1940,2020]},"axis":{"labels":false,"title":null}},"y":{"field":"Percent","type":"quantitative","scale":{"nice":false,"padding":6},"axis":{"title":null}},"color":{"field":"Females","type":"nominal","title":"Females in triangle"}}},{"data":{"values":[{}]},"mark":"rule","encoding":{"y":{"datum":0}}}]},
{"title":"Genre = Music","transform":[{"filter":"datum.Genre==='Music'"}],"layer":[{"mark":"line","encoding":{"x":{"field":"Decade","type":"quantitative","scale":{"domain":[1940,2020]},"axis":{"labels":false,"title":null}},"y":{"field":"Percent","type":"quantitative","scale":{"nice":false,"padding":6},"axis":{"title":null}},"color":{"field":"Females","type":"nominal","title":"Females in triangle"}}},{"data":{"values":[{}]},"mark":"rule","encoding":{"y":{"datum":0}}}]},
{"title":"Genre = Musical","transform":[{"filter":"datum.Genre==='Musical'"}],"layer":[{"mark":"line","encoding":{"x":{"field":"Decade","type":"quantitative","scale":{"domain":[1940,2020]},"axis":{"labels":false,"title":null}},"y":{"field":"Percent","type":"quantitative","scale":{"nice":false,"padding":6},"axis":{"title":"Percent"}},"color":{"field":"Females","type":"nominal","title":"Females in triangle"}}},{"data":{"values":[{}]},"mark":"rule","encoding":{"y":{"datum":0}}}]},
{"title":"Genre = Mystery","transform":[{"filter":"datum.Genre==='Mystery'"}],"layer":[{"mark":"line","encoding":{"x":{"field":"Decade","type":"quantitative","scale":{"domain":[1940,2020]},"axis":{"labels":false,"title":null}},"y":{"field":"Percent","type":"quantitative","scale":{"nice":false,"padding":6},"axis":{"title":null}},"color":{"field":"Females","type":"nominal","title":"Females in triangle"}}},{"data":{"values":[{}]},"mark":"rule","encoding":{"y":{"datum":0}}}]},
{"title":"Genre = Romance","transform":[{"filter":"datum.Genre==='Romance'"}],"layer":[{"mark":"line","encoding":{"x":{"field":"Decade","type":"quantitative","scale":{"domain":[1940,2020]},"axis":{"labels":false,"title":null}},"y":{"field":"Percent","type":"quantitative","scale":{"nice":false,"padding":6},"axis":{"title":null}},"color":{"field":"Females","type":"nominal","title":"Females in triangle"}}},{"data":{"values":[{}]},"mark":"rule","encoding":{"y":{"datum":0}}}]},
{"title":"Genre = Sci-Fi","transform":[{"filter":"datum.Genre==='Sci-Fi'"}],"layer":[{"mark":"line","encoding":{"x":{"field":"Decade","type":"quantitative","scale":{"domain":[1940,2020]},"axis":{"labels":false,"title":null}},"y":{"field":"Percent","type":"quantitative","scale":{"nice":false,"padding":6},"axis":{"title":null}},"color":{"field":"Females","type":"nominal","title":"Females in triangle"}}},{"data":{"values":[{}]},"mark":"rule","encoding":{"y":{"datum":0}}}]},
{"title":"Genre = Sport","transform":[{"filter":"datum.Genre==='Sport'"}],"layer":[{"mark":"line","encoding":{"x":{"field":"Decade","type":"quantitative","scale":{"domain":[1940,2020]},"axis":{"title":"Decade"}},"y":{"field":"Percent","type":"quantitative","scale":{"nice":false,"padding":6},"axis":{"title":"Percent"}},"color":{"field":"Females","type":"nominal","title":"Females in triangle"}}},{"data":{"values":[{}]},"mark":"rule","encoding":{"y":{"datum":0}}}]},
{"title":"Genre = Thriller","transform":[{"filter":"datum.Genre==='Thriller'"}],"layer":[{"mark":"line","encoding":{"x":{"field":"Decade","type":"quantitative","scale":{"domain":[1940,2020]},"axis":{"title":"Decade"}},"y":{"field":"Percent","type":"quantitative","scale":{"nice":false,"padding":6},"axis":{"title":null}},"color":{"field":"Females","type":"nominal","title":"Females in triangle"}}},{"data":{"values":[{}]},"mark":"rule","encoding":{"y":{"datum":0}}}]},
{"title":"Genre = War","transform":[{"filter":"datum.Genre==='War'"}],"layer":[{"mark":"line","encoding":{"x":{"field":"Decade","type":"quantitative","scale":{"domain":[1940,2020]},"axis":{"title":"Decade"}},"y":{"field":"Percent","type":"quantitative","scale":{"nice":false,"padding":6},"axis":{"title":null}},"color":{"field":"Females","type":"nominal","title":"Females in triangle"}}},{"data":{"values":[{}]},"mark":"rule","encoding":{"y":{"datum":0}}}]},
{"title":"Genre = Western","transform":[{"filter":"datum.Genre==='Western'"}],"layer":[{"mark":"line","encoding":{"x":{"field":"Decade","type":"quantitative","scale":{"domain":[1940,2020]},"axis":{"title":"Decade"}},"y":{"field":"Percent","type":"quantitative","scale":{"nice":false,"padding":6},"axis":{"title":null}},"color":{"field":"Females","type":"nominal","title":"Females in triangle"}}},{"data":{"values":[{}]},"mark":"rule","encoding":{"y":{"datum":0}}}]}
],
"config":{
"font":"DejaVu Sans",
"numberFormat":"d",
"view":{"continuousWidth":123,"continuousHeight":132,"fill":"#EAEAF2","stroke":null},
"range":{"category":["#4878d0","#ee854a","#6acc64","#d65f5f"]},
"line":{"strokeWidth":1.1},
"rule":{"strokeDash":[1.2,1.8],"color":"#444444","strokeWidth":1},
"title":{"fontSize":8.6,"fontWeight":"normal","color":"#262626","offset":1,"anchor":"middle"},
"axis":{"grid":true,"gridColor":"#ffffff","gridWidth":1,"domain":false,"ticks":false,"tickSize":0,"labelFontSize":7.6,"labelColor":"#262626","titleFontSize":9,"titleFontWeight":"normal","titleColor":"#262626"},
"axisX":{"tickCount":4,"labelPadding":3,"titlePadding":2},
"axisY":{"tickCount":6,"labelPadding":4,"titlePadding":3},
"legend":{"orient":"none","legendX":591,"legendY":354,"symbolType":"stroke","symbolSize":280,"symbolStrokeWidth":1.5,"symbolOffset":22,"labelOffset":4,"labelFontSize":7.6,"labelColor":"#262626","titleFontSize":7.1,"titleFontWeight":"normal","titleColor":"#262626","rowPadding":-5,"titlePadding":4}
}
}
